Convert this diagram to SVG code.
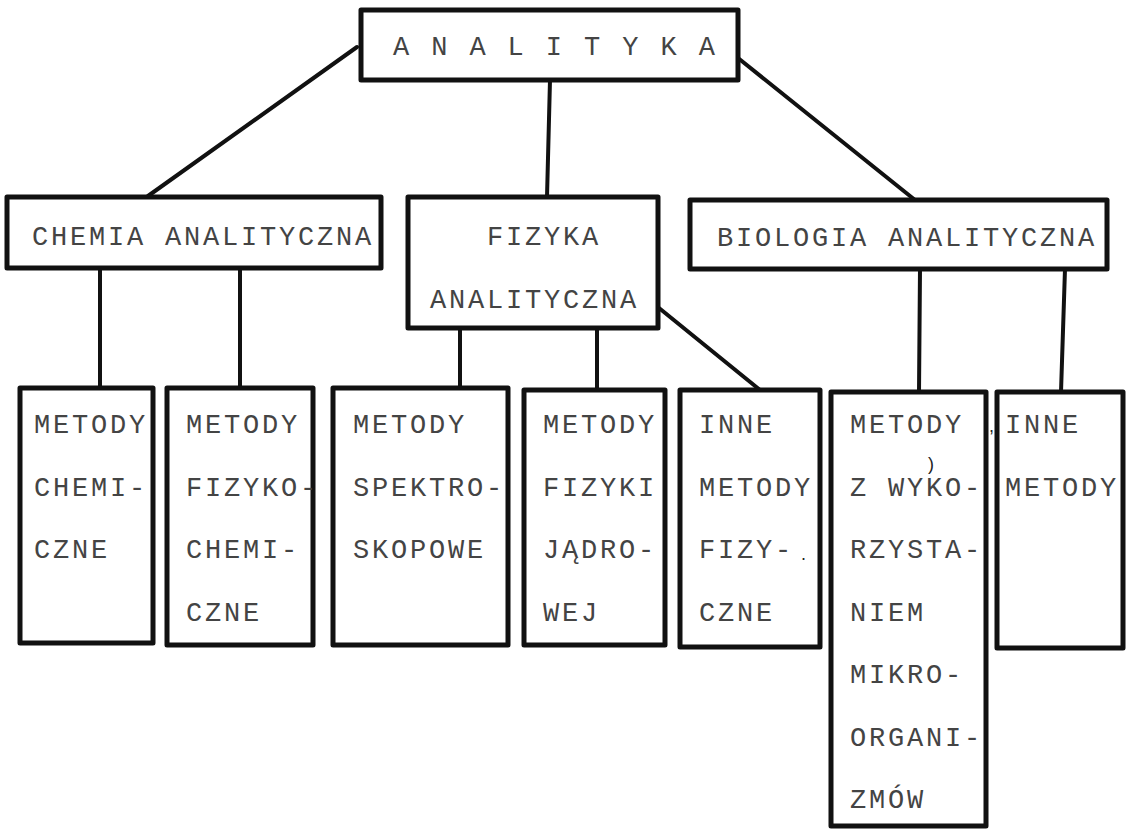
<svg xmlns="http://www.w3.org/2000/svg" width="1126" height="833" viewBox="0 0 1126 833">
<style>
.box{fill:#fff;stroke:#111;stroke-width:5;stroke-linejoin:round}
.ln{stroke:#111;stroke-width:4;fill:none;stroke-linecap:round}
.t{font-family:"Liberation Mono","DejaVu Sans Mono",monospace;font-size:27px;letter-spacing:2.8px;fill:#444}
.mark{font-family:"Liberation Sans",sans-serif;font-size:18px;fill:#222}
</style>
<rect width="1126" height="833" fill="#fff"/>
<g id="connectors">
<line class="ln" x1="357" y1="47" x2="148" y2="196"/>
<line class="ln" x1="550" y1="80" x2="547" y2="197"/>
<line class="ln" x1="738" y1="58" x2="915" y2="200"/>
<line class="ln" x1="100" y1="268" x2="100" y2="388"/>
<line class="ln" x1="240" y1="268" x2="240" y2="388"/>
<line class="ln" x1="460" y1="328" x2="460" y2="388"/>
<line class="ln" x1="597" y1="328" x2="597" y2="390"/>
<line class="ln" x1="659" y1="308" x2="760" y2="390"/>
<line class="ln" x1="920" y1="269" x2="919" y2="392"/>
<line class="ln" x1="1065" y1="269" x2="1061" y2="392"/>
</g>
<g id="analityka">
<rect class="box" x="361" y="10" width="377" height="70"/>
<text class="t" x="393" y="55" style="letter-spacing:2.9px">A N A L I T Y K A</text>
</g>
<g id="chemia">
<rect class="box" x="7" y="197" width="374" height="71"/>
<text class="t" x="32" y="245">CHEMIA ANALITYCZNA</text>
</g>
<g id="fizyka">
<rect class="box" x="408" y="197" width="250" height="131"/>
<text class="t" x="487" y="245">FIZYKA</text>
<text class="t" x="430" y="308">ANALITYCZNA</text>
</g>
<g id="biologia">
<rect class="box" x="690" y="200" width="417" height="69"/>
<text class="t" x="717" y="246">BIOLOGIA ANALITYCZNA</text>
</g>
<g id="metody-chemiczne">
<rect class="box" x="20" y="388" width="133" height="255"/>
<text class="t" x="34" y="433">METODY</text>
<text class="t" x="34" y="496">CHEMI-</text>
<text class="t" x="34" y="558">CZNE</text>
</g>
<g id="metody-fizykochemiczne">
<rect class="box" x="167" y="388" width="146" height="257"/>
<text class="t" x="186" y="433">METODY</text>
<text class="t" x="186" y="496">FIZYKO-</text>
<text class="t" x="186" y="558">CHEMI-</text>
<text class="t" x="186" y="621">CZNE</text>
</g>
<g id="metody-spektroskopowe">
<rect class="box" x="333" y="388" width="175" height="257"/>
<text class="t" x="353" y="433">METODY</text>
<text class="t" x="353" y="496">SPEKTRO-</text>
<text class="t" x="353" y="558">SKOPOWE</text>
</g>
<g id="metody-fizyki-jadrowej">
<rect class="box" x="524" y="390" width="141" height="255"/>
<text class="t" x="543" y="433">METODY</text>
<text class="t" x="543" y="496">FIZYKI</text>
<text class="t" x="543" y="558">JĄDRO-</text>
<text class="t" x="543" y="621">WEJ</text>
</g>
<g id="inne-metody-fizyczne">
<rect class="box" x="680" y="390" width="140" height="257"/>
<text class="t" x="699" y="433">INNE</text>
<text class="t" x="699" y="496">METODY</text>
<text class="t" x="699" y="558">FIZY-</text>
<text class="mark" x="801" y="560">.</text>
<text class="t" x="699" y="621">CZNE</text>
</g>
<g id="metody-mikroorganizmow">
<rect class="box" x="831" y="392" width="155" height="434"/>
<text class="t" x="850" y="433">METODY</text>
<text class="mark" x="928" y="470">)</text>
<text class="t" x="850" y="496">Z WYKO-</text>
<text class="t" x="850" y="558">RZYSTA-</text>
<text class="t" x="850" y="621">NIEM</text>
<text class="t" x="850" y="683">MIKRO-</text>
<text class="t" x="850" y="746">ORGANI-</text>
<text class="t" x="850" y="808">ZMÓW</text>
</g>
<g id="inne-metody">
<rect class="box" x="997" y="392" width="126" height="256"/>
<text class="mark" x="989" y="432">,</text>
<text class="t" x="1005" y="433">INNE</text>
<text class="t" x="1005" y="496">METODY</text>
</g>
</svg>
